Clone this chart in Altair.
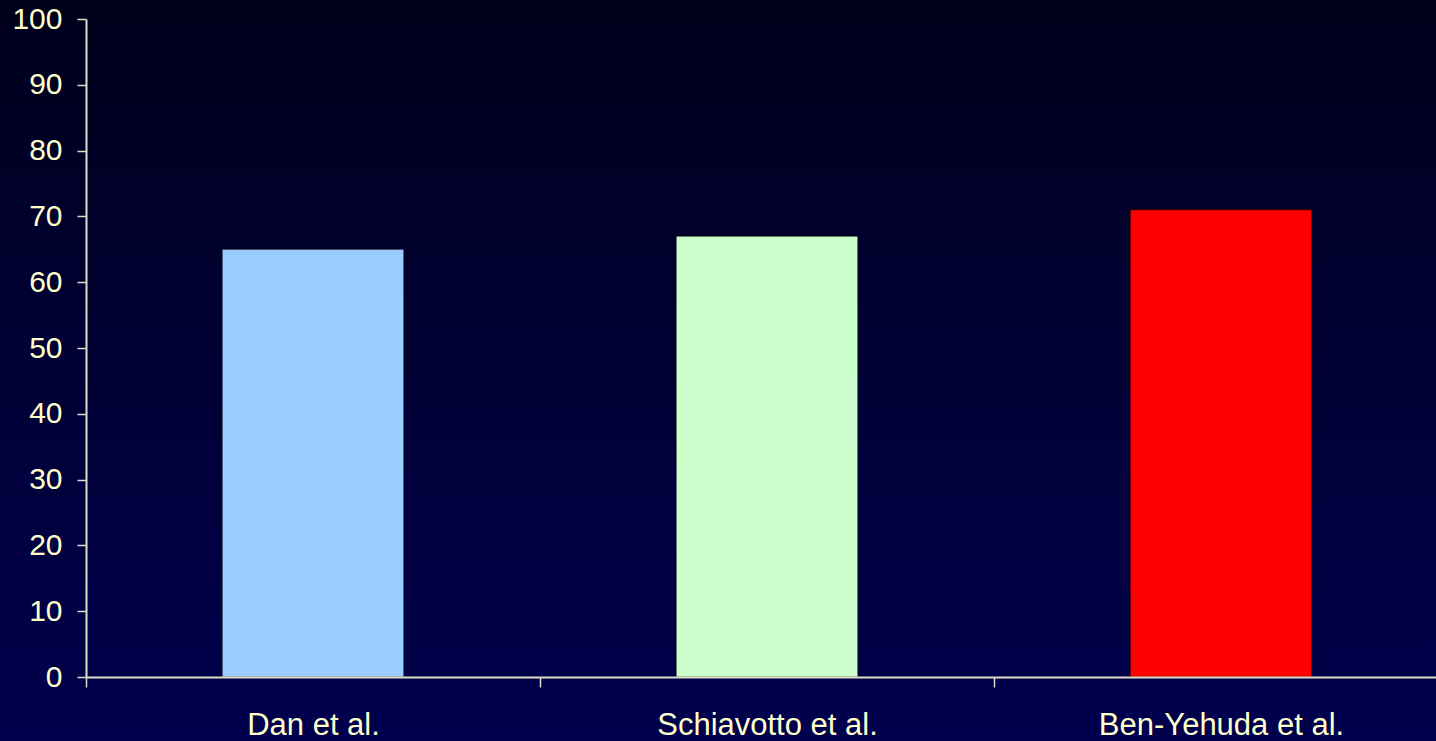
import altair as alt
import pandas as pd

categories = ["Dan et al.", "Schiavotto et al.", "Ben-Yehuda et al."]
values = [65, 67, 71]
colors = ["#99CCFF", "#CCFFCC", "#FF0000"]

df = pd.DataFrame({"study": categories, "value": values, "color": colors})

W, H = 1350, 658
PAD_L, PAD_T, PAD_B = 86, 19, 64

bg = alt.Chart(pd.DataFrame({"a": [0]})).mark_rect(
    fill=alt.Gradient(
        gradient="linear", x1=0, y1=0, x2=0, y2=1,
        stops=[alt.GradientStop(offset=0, color="#00001C"),
               alt.GradientStop(offset=1, color="#00004E")],
    )
).encode(
    x=alt.value(-PAD_L), x2=alt.value(W + 10),
    y=alt.value(-PAD_T), y2=alt.value(H + PAD_B),
)

bars = alt.Chart(df).mark_bar(
    width=alt.RelativeBandSize(0.4), stroke="#000000", strokeWidth=1, strokeOpacity=0.6
).encode(
    x=alt.X("study:N", sort=categories,
            scale=alt.Scale(paddingInner=0, paddingOuter=0, range=[0, 1362]),
            axis=alt.Axis(title=None, labelAngle=0, tickBand="extent", tickSize=10,
                          bandPosition=0.482,
                          labelPadding=23, labelFontSize=31, labelColor="#FFFFCC", labelLimit=0,
                          labelFont="Liberation Sans", labelBaseline="top", zindex=2,
                          domainColor="#DDDDC8", tickColor="#DDDDC8", domainWidth=2, tickWidth=1.5)),
    y=alt.Y("value:Q", scale=alt.Scale(domain=[0, 100], nice=False),
            axis=alt.Axis(title=None, values=list(range(0, 101, 10)), grid=False, tickSize=9,
                          labelPadding=15, labelFontSize=30, labelColor="#FFFFCC", zindex=2,
                          labelFont="Liberation Sans", domainColor="#DDDDC8", tickColor="#DDDDC8",
                          domainWidth=2, tickWidth=1.5)),
    color=alt.Color("color:N", scale=None, legend=None),
)

chart = alt.layer(bg, bars).properties(
    width=W, height=H,
    autosize=alt.AutoSizeParams(type="none"),
    padding={"left": PAD_L, "top": PAD_T, "right": 0, "bottom": PAD_B},
    background="#000040",
).configure_view(stroke=None)

chart.save("out.html", embed_options={"renderer": "svg", "actions": False})
